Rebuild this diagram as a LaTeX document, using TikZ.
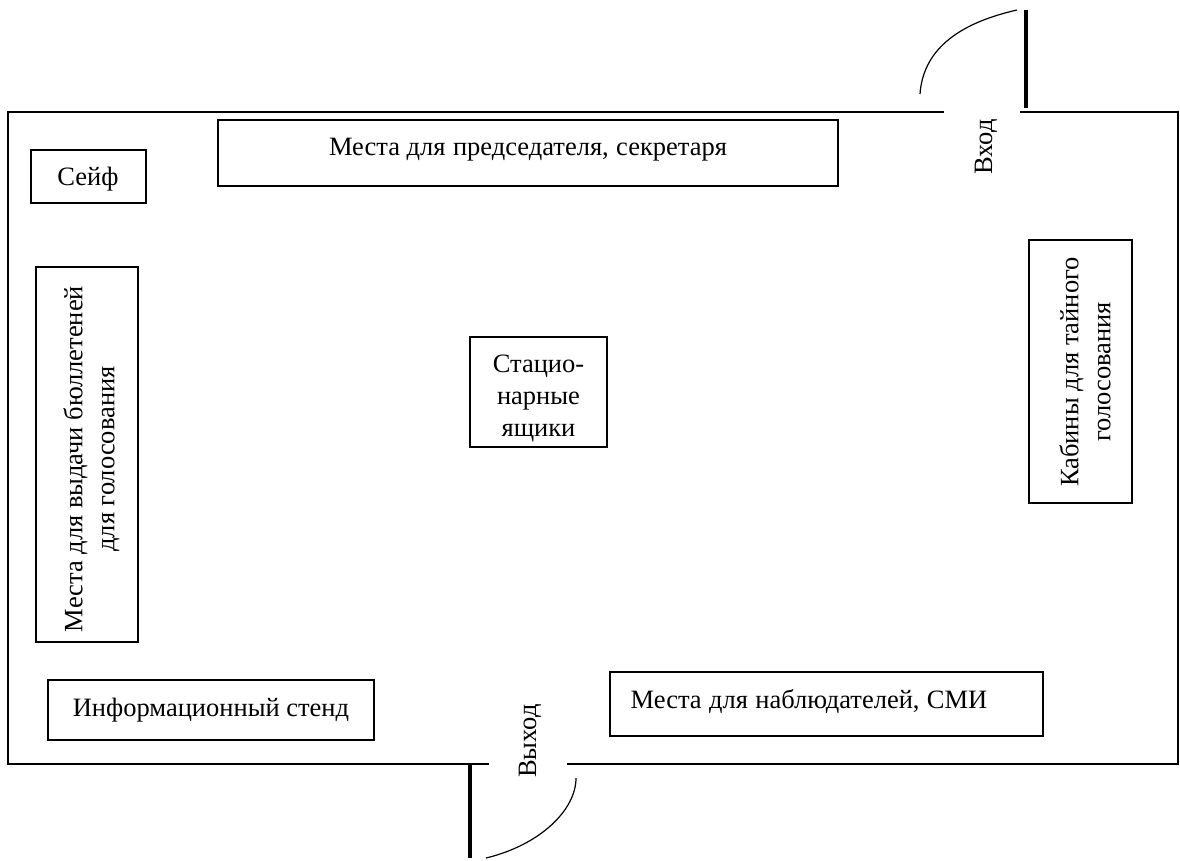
\documentclass[tikz,border=0pt]{standalone}
\usepackage{fontspec}
\setmainfont{Liberation Serif}
\newcommand{\gp}{\hspace{7.4pt}}
\begin{document}
\begin{tikzpicture}[x=1pt,y=-1pt,
 wall/.style={line width=1.6pt,black},
 door/.style={line width=4.2pt,black},
 swing/.style={line width=1.2pt,black},
 box/.style={draw=black,line width=1.3pt,fill=none},
 lbl/.style={font=\fontsize{26.5}{32}\selectfont,align=center,inner sep=0pt}]
\useasboundingbox (0,0) rectangle (1180,860);
\coordinate (g1) at (944,112); \coordinate (g2) at (1020,112);
\coordinate (g3) at (489,764); \coordinate (g4) at (567,764);
\draw[wall] (g1) -- (8,112) -- (8,764) -- (g3);
\draw[wall] (g2) -- (1178,112) -- (1178,764) -- (g4);
\coordinate (d1a) at (1026,10); \coordinate (d1b) at (1026,108);
\draw[door] (d1a) -- (d1b);
\coordinate (d2a) at (470,764); \coordinate (d2b) at (470,858);
\draw[door] (d2a) -- (d2b);
\coordinate (s1) at (920,94); \coordinate (s2) at (576,778);
\coordinate (s1e) at (1017,10); \coordinate (s2e) at (486,858);
\draw[swing] (s1) .. controls (923,52) and (955,24) .. (s1e);
\draw[swing] (s2) .. controls (576,810) and (540,845) .. (s2e);
\node[box,minimum width=620pt,minimum height=66pt] (pres) at (528,153) {};
\node[lbl] at (528,150) {Места для\gp председателя,\gp секретаря};
\node[box,minimum width=115pt,minimum height=53pt] (safe) at (88.5,176.5) {};
\node[lbl] at (88,179) {Сейф};
\node[box,minimum width=102pt,minimum height=375pt] (ball) at (87,454.5) {};
\node[lbl,rotate=90] at (91.5,459) {Места для выдачи бюллетеней\\для голосования};
\node[box,minimum width=137pt,minimum height=110pt] (urn) at (538.5,392) {};
\node[lbl] at (538.5,398) {Стацио-\\нарные\\ящики};
\node[box,minimum width=103pt,minimum height=263pt] (cab) at (1080.5,371.5) {};
\node[lbl,rotate=90] at (1085,372) {Кабины для тайного\\голосования};
\node[box,minimum width=326pt,minimum height=60pt] (info) at (211,710) {};
\node[lbl] at (211,710) {Информационный стенд};
\node[box,minimum width=433pt,minimum height=64pt] (obs) at (826.5,704) {};
\node[lbl] at (809,702) {Места\gp для\gp наблюдателей,\gp СМИ};
\node[lbl,rotate=90] at (986,147) {Вход};
\node[lbl,rotate=90] at (530,741) {Выход};
\end{tikzpicture}
\end{document}
